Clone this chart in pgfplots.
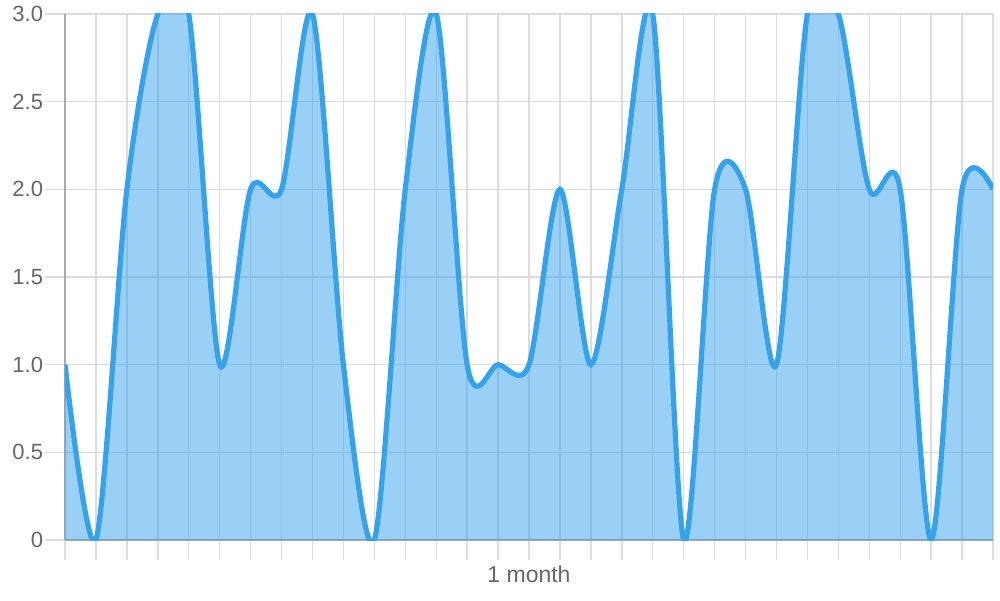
\documentclass[border=0pt]{standalone}
\usepackage{fontspec}
\setmainfont{Liberation Sans}
\usepackage{pgfplots}
\pgfplotsset{compat=1.18}
\definecolor{lineblue}{RGB}{54,162,235}
\definecolor{gridgray}{RGB}{220,220,220}
\definecolor{axisgray}{RGB}{170,170,170}
\definecolor{labelgray}{RGB}{102,102,102}
\begin{document}
\begin{tikzpicture}
\begin{axis}[
  name=ax,
  width=464pt, height=263pt, scale only axis=true,
  xmin=0, xmax=30, ymin=0, ymax=3,
  xtick={0,...,30}, xticklabels={},
  ytick={0,0.5,1,1.5,2,2.5,3},
  yticklabels={0,0.5,1.0,1.5,2.0,2.5,3.0},
  xtick pos=bottom, ytick pos=left,
  tick align=outside, major tick length=9.8pt,
  grid=major,
  major grid style={gridgray, line width=0.7pt},
  major tick style={gridgray, line width=0.7pt},
  axis x line*=bottom, axis y line*=left,
  axis line style={axisgray, line width=0.7pt},
  ticklabel style={font=\fontsize{11pt}{13pt}\selectfont, text=labelgray},
  yticklabel style={inner sep=0pt, xshift=-1pt},
  xlabel={1 month},
  xlabel style={font=\fontsize{11.5pt}{13pt}\selectfont, text=labelgray,
    at={(axis description cs:0.5,0)}, anchor=base, yshift=-21pt},
  /pgf/number format/assume math mode=true,
]
\addplot[draw=none, fill=lineblue, fill opacity=0.5, smooth, tension=0.5]
  coordinates {
  (0,1) (1,0) (2,2) (3,3) (4,3) (5,1) (6,2) (7,2) (8,3) (9,1)
  (10,0) (11,2) (12,3) (13,1) (14,1) (15,1) (16,2) (17,1) (18,2) (19,3)
  (20,0) (21,2) (22,2) (23,1) (24,3) (25,3) (26,2) (27,2) (28,0) (29,2)
  (30,2)
  } \closedcycle;
\addplot[lineblue, line width=2.6pt, smooth, tension=0.5]
  coordinates {
  (0,1) (1,0) (2,2) (3,3) (4,3) (5,1) (6,2) (7,2) (8,3) (9,1)
  (10,0) (11,2) (12,3) (13,1) (14,1) (15,1) (16,2) (17,1) (18,2) (19,3)
  (20,0) (21,2) (22,2) (23,1) (24,3) (25,3) (26,2) (27,2) (28,0) (29,2)
  (30,2)
  };
\end{axis}
\path ([xshift=-32.5pt,yshift=-30pt]ax.south west) rectangle ([xshift=3.5pt,yshift=7pt]ax.north east);
\end{tikzpicture}
\end{document}
